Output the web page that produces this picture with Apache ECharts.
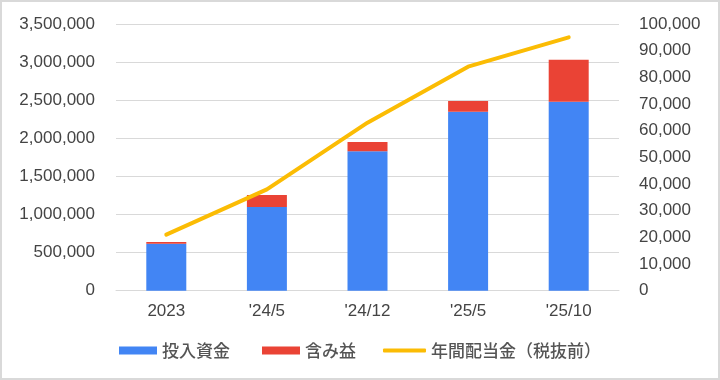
<!DOCTYPE html>
<html>
<head>
<meta charset="utf-8">
<script src="https://cdn.jsdelivr.net/npm/echarts@6/dist/echarts.min.js"></script>
<style>
html,body{margin:0;padding:0;background:#fff;}
#frame{width:720px;height:380px;box-sizing:border-box;border:2px solid #d9d9d9;position:relative;overflow:hidden;}
#chart{position:absolute;left:-2px;top:-2px;width:720px;height:380px;}
</style>
</head>
<body>
<div id="frame"><div id="chart"></div></div>
<script>
const categories = ['2023', "'24/5", "'24/12", "'25/5", "'25/10"];
const investedCapital = [615000, 1100000, 1830000, 2350000, 2480000];
const unrealizedGain = [25000, 155000, 120000, 140000, 550000];
const annualDividend = [21000, 38000, 63000, 84000, 95000];
const seriesNames = ['投入資金', '含み益', '年間配当金（税抜前）'];
const leftTicks = { min: 0, max: 3500000, interval: 500000 };
const rightTicks = { min: 0, max: 100000, interval: 10000 };

const FONT = "'Liberation Sans', 'Noto Sans CJK JP', sans-serif";
const LEGEND_TEXT = { fontSize: 17, color: '#555', fontWeight: 500, fontFamily: "'Noto Sans CJK JP', sans-serif" };
const chart = echarts.init(document.getElementById('chart'), null, { renderer: 'canvas' });
const fmt = v => v.toLocaleString('en-US');

chart.setOption({
  animation: false,
  backgroundColor: 'transparent',
  textStyle: { fontFamily: FONT },
  grid: { left: 116, right: 101, top: 24, bottom: 89.3, containLabel: false },
  legend: [
    {
      left: 119, top: 342, padding: 0,
      itemWidth: 38, itemHeight: 8, itemGap: 32,
      textStyle: LEGEND_TEXT,
      data: [
        { name: seriesNames[0], icon: 'rect' },
        { name: seriesNames[1], icon: 'rect' }
      ]
    },
    {
      left: 383, top: 342, padding: 0,
      itemWidth: 43, itemHeight: 4,
      textStyle: LEGEND_TEXT,
      data: [{ name: seriesNames[2], icon: 'roundRect' }]
    }
  ],
  xAxis: {
    type: 'category',
    data: categories,
    axisLine: { show: true, lineStyle: { color: '#d9d9d9', width: 1 } },
    axisTick: { show: false },
    axisLabel: { fontSize: 17, color: '#444', margin: 12, fontFamily: FONT }
  },
  yAxis: [
    {
      type: 'value', min: leftTicks.min, max: leftTicks.max, interval: leftTicks.interval,
      axisLine: { show: false }, axisTick: { show: false },
      splitLine: { lineStyle: { color: '#d9d9d9', width: 1 } },
      axisLabel: { fontSize: 17, color: '#444', margin: 21, formatter: fmt, fontFamily: FONT }
    },
    {
      type: 'value', min: rightTicks.min, max: rightTicks.max, interval: rightTicks.interval,
      axisLine: { show: false }, axisTick: { show: false },
      splitLine: { show: false },
      axisLabel: { fontSize: 17, color: '#444', margin: 20, formatter: fmt, fontFamily: FONT }
    }
  ],
  series: [
    {
      name: seriesNames[0], type: 'bar', stack: 'total', barWidth: 40,
      itemStyle: { color: '#4285f4' }, data: investedCapital
    },
    {
      name: seriesNames[1], type: 'bar', stack: 'total', barWidth: 40,
      itemStyle: { color: '#ea4335' }, data: unrealizedGain
    },
    {
      name: seriesNames[2], type: 'line', yAxisIndex: 1,
      symbol: 'none', showSymbol: false,
      lineStyle: { color: '#fbbc04', width: 4, cap: 'round', join: 'round' },
      itemStyle: { color: '#fbbc04' },
      data: annualDividend
    }
  ]
});
</script>
</body>
</html>
